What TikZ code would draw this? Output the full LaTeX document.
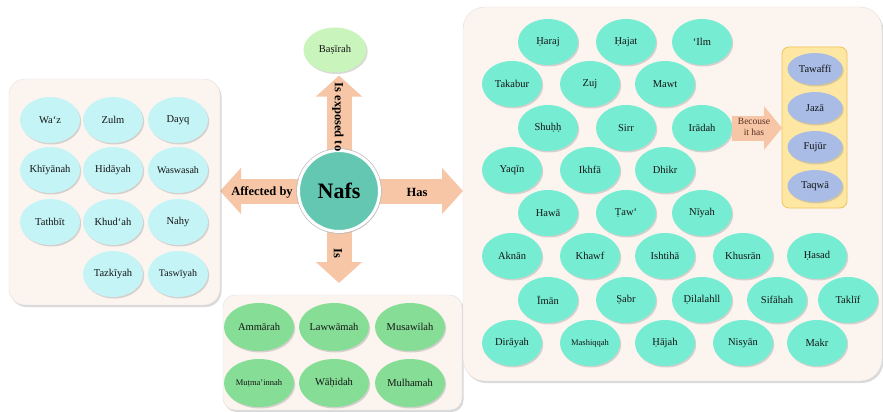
\documentclass[tikz,border=0pt]{standalone}
\usepackage{fontspec}
\setmainfont{Liberation Serif}
\usetikzlibrary{shapes.geometric,shadows,arrows.meta,backgrounds}
\definecolor{panelfill}{HTML}{FCF4EF}
\definecolor{nafsfill}{HTML}{63C7B2}
\definecolor{arrowfill}{HTML}{F6C6A6}
\definecolor{cyanleaf}{HTML}{C4F4F6}
\definecolor{tealleaf}{HTML}{76EDD3}
\definecolor{greenleaf}{HTML}{86DE96}
\definecolor{paleleaf}{HTML}{C9F4BC}
\definecolor{blueleaf}{HTML}{A8BCE6}
\definecolor{yellowbox}{HTML}{FDE7A2}
\definecolor{yellowedge}{HTML}{F0C35A}
\definecolor{becousetext}{HTML}{5A2E22}

\begin{document}
\begin{tikzpicture}[x=1pt, y=-1pt,
  every node/.style={font=\fontsize{10.5}{12}\selectfont, text=black!92, inner sep=0pt, outer sep=0pt},
  panel/.style={rectangle, rounded corners=16pt, fill=panelfill, draw=black!12, drop shadow={shadow xshift=1.5pt, shadow yshift=-2pt, opacity=0.3}},
  leaf/.style={ellipse, minimum width=60pt, minimum height=46pt, drop shadow={shadow xshift=1.2pt, shadow yshift=-1.5pt, opacity=0.3}},
  leftleaf/.style={leaf, fill=cyanleaf},
  hasleaf/.style={leaf, fill=tealleaf},
  isleaf/.style={leaf, fill=greenleaf, minimum width=70pt, minimum height=48pt},
  whyleaf/.style={leaf, fill=blueleaf, minimum width=55pt, minimum height=32pt},
  smalltext/.style={font=\fontsize{8.5}{10}\selectfont},
  bigarrow/.style={line width=25pt, draw=arrowfill, -{Triangle[width=45pt, length=21pt]}},
  arrowlabel/.style={font=\fontsize{12.5}{14}\bfseries, text=black}]
\useasboundingbox (0,0) rectangle (883,412);

\node[panel, minimum width=211pt, minimum height=226pt] (leftbox) at (114.5,192) {};
\node[panel, minimum width=239pt, minimum height=115pt, rounded corners=12pt] (isbox) at (342.5,352.5) {};
\node[panel, minimum width=419pt, minimum height=374pt, rounded corners=22pt] (hasbox) at (672.5,194) {};
\node[rectangle, rounded corners=7pt, fill=yellowbox, draw=yellowedge, line width=0.8pt, minimum width=65pt, minimum height=161pt] (whybox) at (814.5,127.5) {};

\node[leftleaf] (waz) at (50,120) {Wa‘z};
\node[leftleaf] (zulm) at (113,120) {Zulm};
\node[leftleaf] (dayq) at (178,120) {Dayq};
\node[leftleaf] (khiyanah) at (50,170) {Khīyānah};
\node[leftleaf] (hidayah) at (113,170) {Hidāyah};
\node[leftleaf, font=\fontsize{10}{12}\selectfont] (waswasah) at (178,170) {Waswasah};
\node[leftleaf] (tathbit) at (50,222) {Tathbīt};
\node[leftleaf] (khudah) at (113,222) {Khud‘ah};
\node[leftleaf] (nahy) at (178,222) {Nahy};
\node[leftleaf] (tazkiyah) at (113,274) {Tazkīyah};
\node[leftleaf, font=\fontsize{10}{12}\selectfont] (taswiyah) at (178,274) {Taswīyah};

\node[isleaf] (ammarah) at (259,327) {Ammārah};
\node[isleaf] (lawwamah) at (334,327) {Lawwāmah};
\node[isleaf] (musawilah) at (410,327) {Musawilah};
\node[isleaf, smalltext] (mutmainnah) at (259,383) {Muṭma’innah};
\node[isleaf] (wahidah) at (334,383) {Wāḥidah};
\node[isleaf] (mulhamah) at (410,383) {Mulhamah};

\node[leaf, fill=paleleaf, minimum width=63pt, minimum height=45pt] (basirah) at (335,50) {Baṣīrah};

\node[hasleaf] (haraj) at (548,42) {Ḥaraj};
\node[hasleaf] (hajat) at (626,42) {Ḥajat};
\node[hasleaf] (ilm) at (702,42) {‘Ilm};
\node[hasleaf] (takabur) at (512,84) {Takabur};
\node[hasleaf] (zuj) at (590,84) {Zuj};
\node[hasleaf] (mawt) at (665,84) {Mawt};
\node[hasleaf] (shuhh) at (548,128) {Shuḥḥ};
\node[hasleaf] (sirr) at (626,128) {Sirr};
\node[hasleaf] (iradah) at (702,128) {Irādah};
\node[hasleaf] (yaqin) at (512,170) {Yaqīn};
\node[hasleaf] (ikhfa) at (590,170) {Ikhfā};
\node[hasleaf] (dhikr) at (665,170) {Dhikr};
\node[hasleaf] (hawa) at (548,213) {Hawā};
\node[hasleaf] (taw) at (626,213) {Ṭaw‘};
\node[hasleaf] (niyah) at (702,213) {Nīyah};
\node[hasleaf] (aknan) at (512,256) {Aknān};
\node[hasleaf] (khawf) at (590,256) {Khawf};
\node[hasleaf] (ishtiha) at (665,256) {Ishtihā};
\node[hasleaf] (khusran) at (743,256) {Khusrān};
\node[hasleaf] (hasad) at (817,256) {Ḥasad};
\node[hasleaf] (iman) at (548,300) {Īmān};
\node[hasleaf] (sabr) at (626,300) {Ṣabr};
\node[hasleaf] (dilalah) at (702,300) {Ḍilalahll};
\node[hasleaf] (sifahah) at (777,300) {Sifāhah};
\node[hasleaf] (taklif) at (848,300) {Taklīf};
\node[hasleaf] (dirayah) at (512,343) {Dirāyah};
\node[hasleaf, smalltext] (mashiqqah) at (590,343) {Mashiqqah};
\node[hasleaf] (hajah) at (665,343) {Ḥājah};
\node[hasleaf] (nisyan) at (743,343) {Nisyān};
\node[hasleaf] (makr) at (817,343) {Makr};

\node[whyleaf] (tawaffi) at (815,69) {Tawaffī};
\node[whyleaf] (jaza) at (815,108) {Jazā};
\node[whyleaf] (fujur) at (815,147) {Fujūr};
\node[whyleaf] (taqwa) at (815,186) {Taqwā};

\node[circle, minimum size=81pt, fill=nafsfill, draw=white, line width=3pt, font=\fontsize{22}{24}\bfseries, text=black, drop shadow={shadow xshift=1.5pt, shadow yshift=-2pt, opacity=0.3}] (nafs) at (339,191) {Nafs};
\draw[black!25, line width=0.6pt] (nafs.center) circle (42.5pt);

\begin{scope}[on background layer]
\draw[bigarrow] (nafs.center) -- (nafs.center -| leftbox.east);
\draw[bigarrow] (nafs.center) -- (nafs.center -| hasbox.west);
\draw[bigarrow, shorten >=3pt] (nafs.center) -- (nafs.center |- basirah.south);
\draw[bigarrow, shorten >=12pt] (nafs.center) -- (nafs.center |- isbox.north);
\end{scope}

\node[arrowlabel] (affected) at (262,192) {Affected by};
\node[arrowlabel] (has) at (417,192) {Has};
\node[arrowlabel, rotate=-90] (exposed) at (338,117) {Is exposed to};
\node[arrowlabel, rotate=-90] (is) at (338,253) {Is};

\draw[line width=25pt, draw=arrowfill, -{Triangle[width=43pt, length=18pt]}] (iradah.east) -- (iradah.east -| whybox.west);
\node[font=\fontsize{9.5}{10.5}\selectfont, text=becousetext, align=center] (becouse) at (754,127) {Becouse\\it has};
\end{tikzpicture}
\end{document}
